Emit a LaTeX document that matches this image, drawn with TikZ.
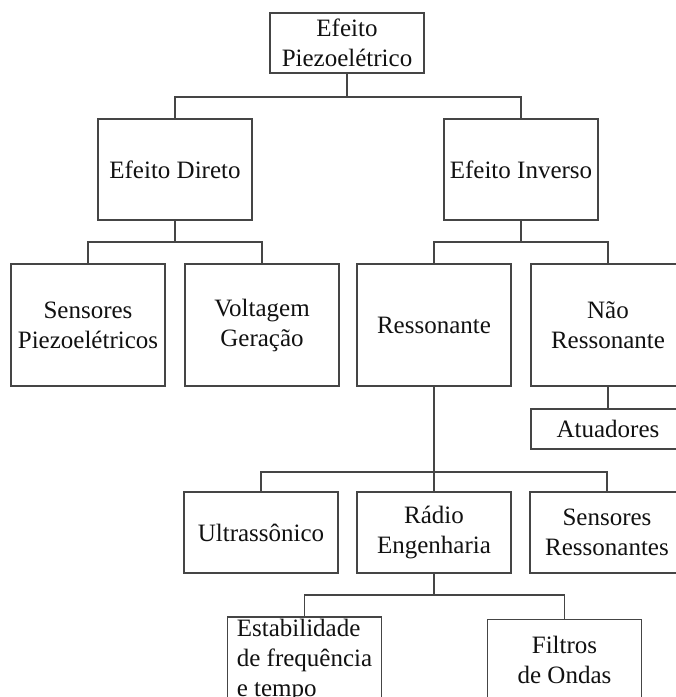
\documentclass[tikz,border=0pt]{standalone}
\usepackage{fontspec}
\setmainfont{Liberation Serif}
\usepackage{xcolor}
\usepackage{tikz}
\usetikzlibrary{positioning,calc}
\definecolor{edge}{HTML}{454545}
\definecolor{ink}{HTML}{111111}
\tikzset{
    box/.style={rectangle, draw=edge, line width=1.2pt, minimum width=154pt, align=center, inner sep=2pt, outer sep=0pt, text=ink, font=\fontsize{25}{30}\selectfont},
    link/.style={draw=edge, line width=1.2pt}
}

\begin{document}
\begin{tikzpicture}
\clip (0pt,0pt) rectangle (676pt,-697pt);

\node[box, minimum height=60pt] (piezo) at (347pt,-43pt) {Efeito\\Piezoelétrico};

\node[box, minimum height=101pt, below=46pt of piezo, xshift=-172pt] (direto) {Efeito Direto};
\node[box, minimum height=101pt, right=192pt of direto] (inverso) {Efeito Inverso};

\node[box, minimum height=122pt, below=44pt of direto, xshift=-87pt] (sensores) {Sensores\\Piezoelétricos};
\node[box, minimum height=122pt, right=20pt of sensores] (voltagem) {Voltagem\\Geração};
\node[box, minimum height=122pt, right=18pt of voltagem] (resson) {Ressonante};
\node[box, minimum height=122pt, right=20pt of resson] (naoresson) {Não\\Ressonante};

\node[box, minimum height=40pt, below=23pt of naoresson] (atuadores) {Atuadores};

\node[box, minimum height=81pt, below=106pt of resson] (radio) {Rádio\\Engenharia};
\node[box, minimum height=81pt, left=19pt of radio] (ultra) {Ultrassônico};
\node[box, minimum height=81pt, right=19pt of radio] (sensresson) {Sensores\\Ressonantes};

\node[box, minimum height=81pt, below=44pt of radio, xshift=-129.5pt, align=left] (estab) {Estabilidade\\de frequência\\e tempo};
\node[box, minimum height=81pt, right=106pt of estab] (filtros) {Filtros\\de Ondas};

\draw[link] (piezo.south) -- ++(0,-24pt) -| (direto.north);
\draw[link] (piezo.south) -- ++(0,-24pt) -| (inverso.north);

\draw[link] (direto.south) -- ++(0,-22pt) -| (sensores.north);
\draw[link] (direto.south) -- ++(0,-22pt) -| (voltagem.north);

\draw[link] (inverso.south) -- ++(0,-22pt) -| (resson.north);
\draw[link] (inverso.south) -- ++(0,-22pt) -| (naoresson.north);

\draw[link] (naoresson.south) -- (atuadores.north);

\draw[link] (resson.south) -- ++(0,-86pt) -| (ultra.north);
\draw[link] (resson.south) -- (radio.north);
\draw[link] (resson.south) -- ++(0,-86pt) -| (sensresson.north);

\draw[link] (radio.south) -- ++(0,-22pt) -| (estab.north);
\draw[link] (radio.south) -- ++(0,-22pt) -| (filtros.north);

\end{tikzpicture}
\end{document}
